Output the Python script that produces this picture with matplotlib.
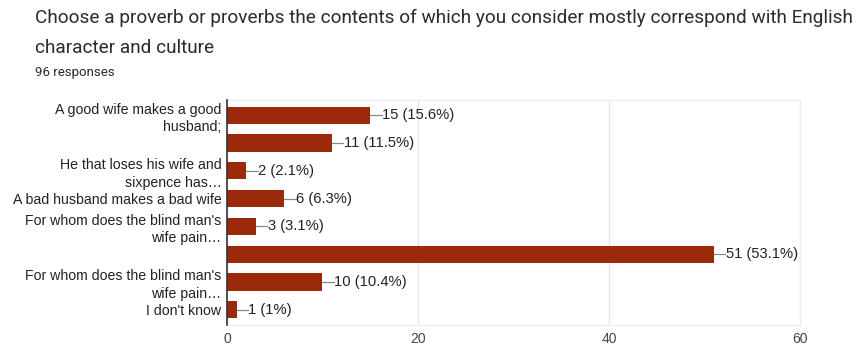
import matplotlib.pyplot as plt

# Survey answers (top to bottom), counts and percentages
labels = [
    "A good wife makes a good\nhusband;",
    "",
    "He that loses his wife and\nsixpence has…",
    "A bad husband makes a bad wife",
    "For whom does the blind man's\nwife pain…",
    "",
    "For whom does the blind man's\nwife pain…",
    "I don't know",
]
counts = [15, 11, 2, 6, 3, 51, 10, 1]
percents = ["15.6%", "11.5%", "2.1%", "6.3%", "3.1%", "53.1%", "10.4%", "1%"]
xticks = [0, 20, 40, 60]

title = "Choose a proverb or proverbs the contents of which you consider mostly correspond with English\ncharacter and culture"
subtitle = "96 responses"

bar_color = "#9a2a0a"

fig = plt.figure(figsize=(8.61, 3.45), dpi=100)
ax = fig.add_axes([0.2636, 0.058, 0.929 - 0.2636, 0.652])

pos = list(range(len(labels)))
ax.barh(pos, counts, height=0.62, color=bar_color, zorder=3)

# leader line + value label
for p, c, pc in zip(pos, counts, percents):
    ax.plot([c, c + 1.2], [p, p], color="#888888", lw=0.9, zorder=3)
    ax.text(c + 1.25, p, f"{c} ({pc})", va="center", ha="left",
            fontsize=10.6, family="Liberation Sans", color="#222222")

ax.set_xlim(0, 60)
ax.set_ylim(len(labels) - 0.45, -0.55)
ax.set_xticks(xticks)
ax.set_xticklabels([str(t) for t in xticks], family="Liberation Sans",
                   fontsize=10, color="#444444")
ax.set_yticks(pos)
ax.set_yticklabels(labels, family="Liberation Sans", fontsize=10.2,
                   color="#222222", linespacing=1.3)
ax.tick_params(axis="both", length=0, pad=4)
ax.tick_params(axis="x", pad=5)

ax.grid(axis="x", color="#e6e6e6", lw=0.9, zorder=0)
for s in ["top", "bottom", "right"]:
    ax.spines[s].set_color("#eeeeee")
    ax.spines[s].set_linewidth(0.9)
ax.spines["left"].set_color("#333333")
ax.spines["left"].set_linewidth(1.2)
ax.spines["left"].set_zorder(4)

fig.text(0.0407, 0.975, title, ha="left", va="top", family="Roboto",
         fontsize=13.7, color="#2b2b2b", linespacing=1.85)
fig.text(0.0407, 0.81, subtitle, ha="left", va="top", family="Roboto",
         fontsize=9.5, color="#2b2b2b")

fig.savefig("out.png", dpi=100)
